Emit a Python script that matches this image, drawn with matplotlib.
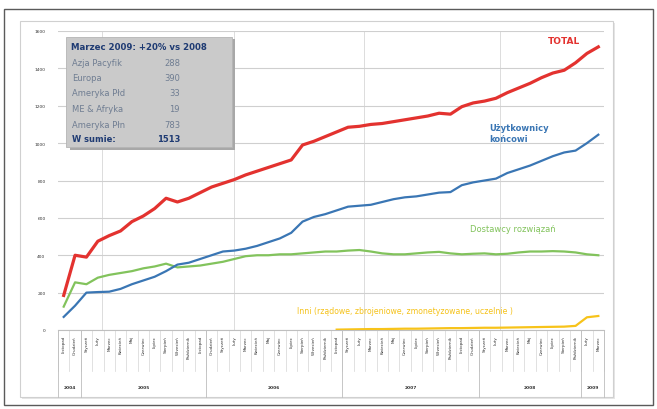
import matplotlib
matplotlib.use("Agg")
import numpy as np
import matplotlib.pyplot as plt
from matplotlib.patches import Rectangle
from matplotlib.transforms import blended_transform_factory

# months shown on the category axis, grouped by year
years = ["2004", "2005", "2006", "2007", "2008", "2009"]
months_by_year = [
    ["Listopad", "Grudzień"],
    ["Styczeń", "Luty", "Marzec", "Kwiecień", "Maj", "Czerwiec", "Lipiec",
     "Sierpień", "Wrzesień", "Październik", "Listopad"],
    ["Grudzień", "Styczeń", "Luty", "Marzec", "Kwiecień", "Maj", "Czerwiec",
     "Lipiec", "Sierpień", "Wrzesień", "Październik", "Listopad"],
    ["Styczeń", "Luty", "Marzec", "Kwiecień", "Maj", "Czerwiec", "Lipiec",
     "Sierpień", "Wrzesień", "Październik", "Listopad", "Grudzień"],
    ["Styczeń", "Luty", "Marzec", "Kwiecień", "Maj", "Czerwiec", "Lipiec",
     "Sierpień", "Październik"],
    ["Luty", "Marzec"],
]
months = [m for grp in months_by_year for m in grp]

total = [185, 400, 390, 475, 505, 530, 580, 610, 650, 705, 685, 705,
         735, 765, 785, 805, 830, 850, 870, 890, 910, 990, 1010, 1035,
         1060, 1085, 1090, 1100, 1105, 1115, 1125, 1135, 1145, 1160, 1155, 1195,
         1215, 1225, 1240, 1270, 1295, 1320, 1350, 1375, 1390, 1430, 1480, 1515]
end_users = [70, 130, 200, 203, 205, 220, 245, 265, 285, 315, 350, 360,
             380, 400, 420, 425, 435, 450, 470, 490, 520, 580, 605, 620,
             640, 660, 665, 670, 685, 700, 710, 715, 725, 735, 738, 775,
             790, 800, 810, 840, 860, 880, 905, 930, 950, 960, 1000, 1045]
vendors = [125, 255, 245, 280, 295, 305, 315, 330, 340, 355, 335, 340,
           345, 355, 365, 380, 395, 400, 400, 405, 405, 410, 415, 420,
           420, 425, 428, 420, 410, 405, 405, 410, 415, 418, 410, 405,
           408, 410, 405, 408, 415, 420, 420, 422, 420, 415, 405, 400]
others = [np.nan] * 24 + [2, 3, 4, 5, 5, 6, 7, 7, 8, 9, 10, 10,
                          11, 12, 12, 13, 14, 15, 16, 17, 18, 22, 68, 75]

box_rows = ["Azja Pacyfik", "Europa", "Ameryka Płd", "ME & Afryka", "Ameryka Płn"]
box_vals = [288, 390, 33, 19, 783]

W, H = 657, 410


def fx(px):
    return px / W


def fy(py):
    return 1 - py / H


fig = plt.figure(figsize=(6.57, 4.10), dpi=100)
fig.patch.set_facecolor("white")

# outer frame and inner chart area (behind the axes)
fig.add_artist(Rectangle((fx(4), fy(406)), fx(649), 396 / H, transform=fig.transFigure,
                         fill=False, edgecolor="#5a5a5a", linewidth=1.0, zorder=-3))
fig.add_artist(Rectangle((fx(22), fy(400)), fx(593), 376 / H, transform=fig.transFigure,
                         facecolor="#e6e6e6", edgecolor="none", zorder=-2))
fig.add_artist(Rectangle((fx(20), fy(398)), fx(593), 376 / H, transform=fig.transFigure,
                         facecolor="white", edgecolor="#d0d0d0", linewidth=0.8, zorder=-1))

ax = fig.add_axes([fx(58), fy(331), 546 / W, 299 / H])
ax.set_zorder(1)
ax.set_facecolor("none")
x = np.arange(len(months))

ax.plot(x, others, color="#f7c31a", linewidth=1.6, zorder=3)
ax.plot(x, vendors, color="#82c35c", linewidth=1.6, zorder=3)
ax.plot(x, end_users, color="#3a76b4", linewidth=1.6, zorder=3)
ax.plot(x, total, color="#e3322f", linewidth=2.3, zorder=4)

ax.set_xlim(-0.5, len(months) - 0.5)
ax.set_ylim(0, 1600)
ax.set_yticks(range(0, 1601, 200))
ax.set_yticklabels([str(v) for v in range(0, 1601, 200)], fontsize=3.2, color="#333333")
ax.tick_params(axis="y", length=0, pad=9)
ax.set_xticks([])
ax.grid(axis="y", color="#cfcfcf", linewidth=0.8)
for gx in [3.4, 15.0, 26.4, 38.4]:
    ax.axvline(gx, color="#dcdcdc", linewidth=0.7, zorder=1)
for s in ["top", "right", "left"]:
    ax.spines[s].set_visible(False)
ax.spines["bottom"].set_color("#bfbfbf")
ax.spines["bottom"].set_linewidth(0.8)

# multi level category axis
tr = blended_transform_factory(ax.transData, ax.transAxes)
for i, m in enumerate(months):
    ax.text(i, -0.017, m, transform=tr, rotation=90, ha="center", va="top",
            fontsize=3.0, color="#333333")
for i in range(len(months) + 1):
    ax.plot([i - 0.5, i - 0.5], [0, -0.137], transform=tr, color="#d4d4d4",
            linewidth=0.5, clip_on=False)
start = 0
bounds = [-0.5]
for yr, grp in zip(years, months_by_year):
    mid = start + (len(grp) - 1) / 2
    ax.text(mid, -0.19, yr, transform=tr, ha="center", va="center",
            fontsize=3.2, fontweight="bold", color="#333333")
    start += len(grp)
    bounds.append(start - 0.5)
for b in bounds:
    ax.plot([b, b], [0, -0.224], transform=tr, color="#bdbdbd",
            linewidth=0.6, clip_on=False)

# series labels
fig.text(fx(548), fy(42), "TOTAL", color="#e3322f", fontsize=6.5, fontweight="bold",
         va="center")
fig.text(fx(489), fy(134), "Użytkownicy\nkońcowi", color="#3a76b4", fontsize=6,
         fontweight="bold", va="center", linespacing=1.3)
fig.text(fx(470), fy(230), "Dostawcy rozwiązań", color="#82c35c", fontsize=6,
         va="center")
fig.text(fx(297), fy(312), "Inni (rządowe, zbrojeniowe, zmonetyzowane, uczelnie )",
         color="#f5c21a", fontsize=5.6, va="center")

# summary box
fig.add_artist(Rectangle((fx(70), fy(151)), fx(165), 111 / H, transform=fig.transFigure,
                         facecolor="#a8a8a8", edgecolor="none", zorder=5))
fig.add_artist(Rectangle((fx(66), fy(148)), fx(166), 110 / H, transform=fig.transFigure,
                         facecolor="#cacaca", edgecolor="#b5b5b5", linewidth=0.6, zorder=6))
fig.text(fx(71), fy(47), "Marzec 2009: +20% vs 2008", color="#1f3b73", fontsize=6.2,
         fontweight="bold", va="center", zorder=7)
row_y = [63, 79, 94, 109, 125]
for name, val, py in zip(box_rows, box_vals, row_y):
    fig.text(fx(72), fy(py), name, color="#6f7d92", fontsize=6, va="center", zorder=7)
    fig.text(fx(180), fy(py), str(val), color="#6f7d92", fontsize=6, va="center",
             ha="right", zorder=7)
fig.text(fx(72), fy(140), "W sumie:", color="#1f3b73", fontsize=6, fontweight="bold",
         va="center", zorder=7)
fig.text(fx(180), fy(140), str(sum(box_vals)), color="#1f3b73", fontsize=6,
         fontweight="bold", va="center", ha="right", zorder=7)

fig.savefig("out.png", dpi=100)
